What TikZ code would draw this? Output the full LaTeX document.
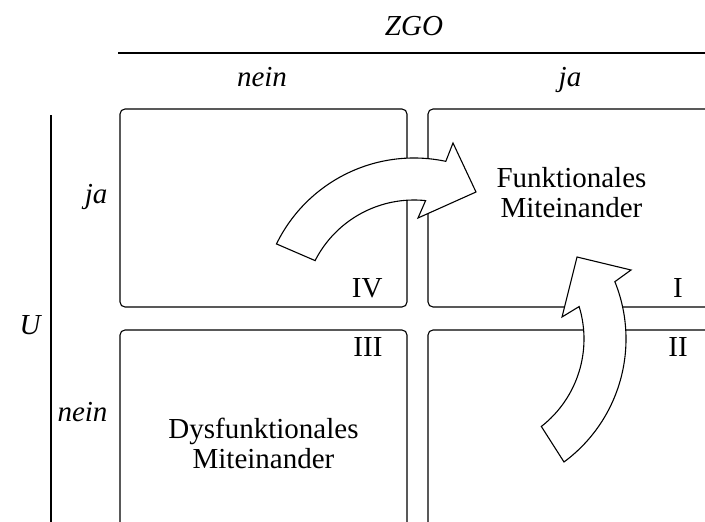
\documentclass[tikz,border=0pt]{standalone}
\usepackage{fontspec}
\setmainfont{Liberation Serif}
\usetikzlibrary{positioning,calc}

\begin{document}
\begin{tikzpicture}[x = 1pt, y = -1pt, line width = 1.1pt,
    every node/.style = { font = \fontsize{29}{30}\selectfont, align = center, inner sep = 0pt },
    achse/.style = { font = \fontsize{29}{30}\selectfont\itshape },
    feld/.style = { draw, rounded corners = 5pt, minimum width = 287pt, minimum height = 198pt },
    pfeil/.style = { draw, fill = white, line join = miter }]
  \clip (0,0) rectangle (705,522);

  \node [feld] (iv) at (263.5,208) {};
  \node [feld] (i) at (571.5,208) {};
  \node [feld, minimum height = 230pt] (iii) at (263.5,445) {};
  \node [feld, minimum height = 230pt] (ii) at (571.5,445) {};

  \coordinate (zl) at (118,53);
  \coordinate (zr) at (705,53);
  \coordinate (uo) at (51,115);
  \coordinate (uu) at (51,522);
  \draw (zl) -- (zr);
  \draw (uo) -- (uu);

  \node [achse, anchor = base] (zgo) at (414,35) {ZGO};
  \node [achse, anchor = base] (zn) at (262,86) {nein};
  \node [achse, anchor = base] (zj) at (570,86) {ja};
  \node [achse, anchor = base] (u) at (30,334) {U};
  \node [achse, anchor = base east] (uj) at (108,203) {ja};
  \node [achse, anchor = base east] (un) at (108,421) {nein};

  \node [anchor = base east] (n4) at (383,297) {IV};
  \node [anchor = base] (n1) at (678,297) {I};
  \node [anchor = base east] (n3) at (383,356) {III};
  \node [anchor = base] (n2) at (678,356) {II};

  \node (fm) at (571.5,193) {Funktionales\\Miteinander};
  \node (dm) at (263.5,443) {Dysfunktionales\\Miteinander};

  \coordinate (c1) at (414,311);
  \coordinate (c2) at (473,339);
  \draw [pfeil] ($(c1)+(206:153)$) arc [start angle = 206, end angle = 282, radius = 153]
    -- (453,143) -- (476,192) -- (418,218) -- ($(c1)+(276:111)$)
    arc [start angle = 276, end angle = 207, radius = 111] -- cycle;
  \draw [pfeil] ($(c2)+(53.5:153)$) arc [start angle = 53.5, end angle = -22, radius = 153]
    -- (631,270) -- (577,257) -- (562,317) -- ($(c2)+(-17:111)$)
    arc [start angle = -17, end angle = 52, radius = 111] -- cycle;
\end{tikzpicture}
\end{document}
